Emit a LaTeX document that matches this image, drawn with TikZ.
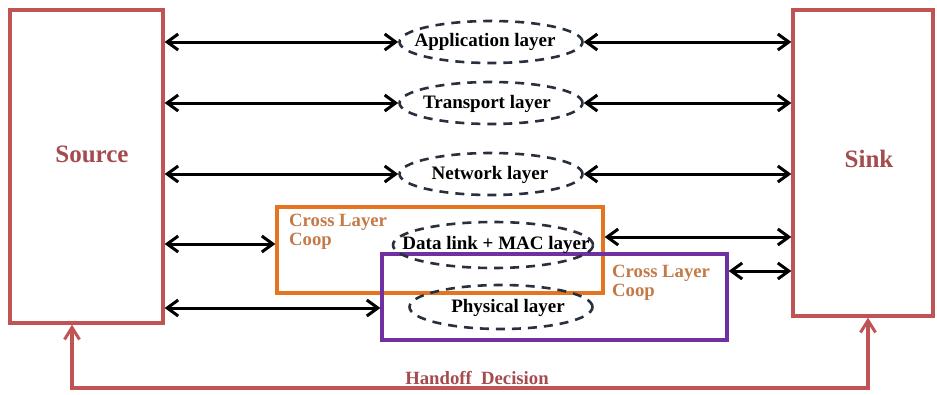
\documentclass[tikz,border=0pt]{standalone}
\usepackage{fontspec}
\setmainfont{Liberation Serif}
\usetikzlibrary{arrows.meta,shapes.geometric}
\definecolor{boxred}{RGB}{192,84,84}
\definecolor{txtred}{RGB}{165,75,78}
\definecolor{orng}{RGB}{228,116,32}
\definecolor{orngtxt}{RGB}{196,122,72}
\definecolor{purp}{RGB}{112,48,160}
\definecolor{dashc}{RGB}{40,48,62}
\tikzset{
  endbox/.style={draw=boxred,line width=3.3pt,minimum width=#1,inner sep=0pt},
  layer/.style={ellipse,draw=dashc,line width=2.6pt,dash pattern=on 9pt off 7pt,inner sep=0pt,minimum width=183pt,minimum height=42pt},
  lbl/.style={font=\bfseries\fontsize{19}{21}\selectfont,inner sep=0pt},
  bigl/.style={font=\bfseries\fontsize{25}{27}\selectfont,text=txtred,inner sep=0pt},
  coop/.style={font=\bfseries\fontsize{18.7}{19}\selectfont,text=orngtxt,align=left,inner sep=0pt,anchor=north west},
  link/.style={line width=3pt,{Straight Barb[length=11pt,width=16pt,line width=3pt]}-{Straight Barb[length=11pt,width=16pt,line width=3pt]}},
  hand/.style={draw=boxred,line width=3.3pt,{Straight Barb[length=12pt,width=15pt,line width=3pt]}-{Straight Barb[length=12pt,width=15pt,line width=3pt]}},
}
\begin{document}
\begin{tikzpicture}[x=1pt,y=-1pt]
\useasboundingbox (0,0) rectangle (937,394);
% end boxes
\node[endbox=153pt,minimum height=313pt] (src) at (86.5,166.5) {};
\node[endbox=140pt,minimum height=306pt] (snk) at (863,163) {};
\node[bigl] (srct) at (92,154) {Source};
\node[bigl] (snkt) at (869,159) {Sink};
% cross layer boxes
\node[draw=orng,line width=3.3pt,minimum width=326pt,minimum height=86pt,inner sep=0pt] (cl1) at (440,250) {};
\node[draw=purp,line width=3.3pt,minimum width=345pt,minimum height=86pt,inner sep=0pt] (cl2) at (554.5,297) {};
\node[coop] (c1t) at (289,214) {Cross Layer\\Coop};
\node[coop] (c2t) at (612,265) {Cross Layer\\Coop};
% layers
\node[layer] (app) at (491,42) {};
\node[layer] (trn) at (491,103) {};
\node[layer] (net) at (491,174) {};
\node[layer,minimum width=200pt,minimum height=46pt] (dl) at (493,245) {};
\node[layer,minimum height=44pt] (phy) at (501,307) {};
\node[lbl] (appt) at (485,42) {Application layer};
\node[lbl] (trnt) at (487,104) {Transport layer};
\node[lbl] (nett) at (490,175) {Network layer};
\node[lbl] (dlt) at (496,245) {Data link + MAC layer};
\node[lbl] (phyt) at (508,308) {Physical layer};
% links
\draw[link] (src.east |- app) -- (app.west);
\draw[link] (app.east) -- (snk.west |- app);
\draw[link] (src.east |- trn) -- (trn.west);
\draw[link] (trn.east) -- (snk.west |- trn);
\draw[link] (src.east |- net) -- (net.west);
\draw[link] (net.east) -- (snk.west |- net);
\coordinate (r4) at (0,244);
\coordinate (r4b) at (0,237);
\coordinate (r5) at (0,308);
\coordinate (r5b) at (0,271);
\draw[link] (src.east |- r4) -- (cl1.west |- r4);
\draw[link] (cl1.east |- r4b) -- (snk.west |- r4b);
\draw[link] (src.east |- r5) -- (cl2.west |- r5);
\draw[link] (cl2.east |- r5b) -- (snk.west |- r5b);
% handoff
\coordinate (h1) at (72,388);
\coordinate (h2) at (868,388);
\draw[hand] (h1 |- src.south) -- (h1) -- (h2) -- (h2 |- snk.south);
\node[font=\bfseries\fontsize{18.7}{20}\selectfont,text=txtred,inner sep=0pt] (hd) at (477,378) {Handoff\ \ Decision};
\end{tikzpicture}
\end{document}
